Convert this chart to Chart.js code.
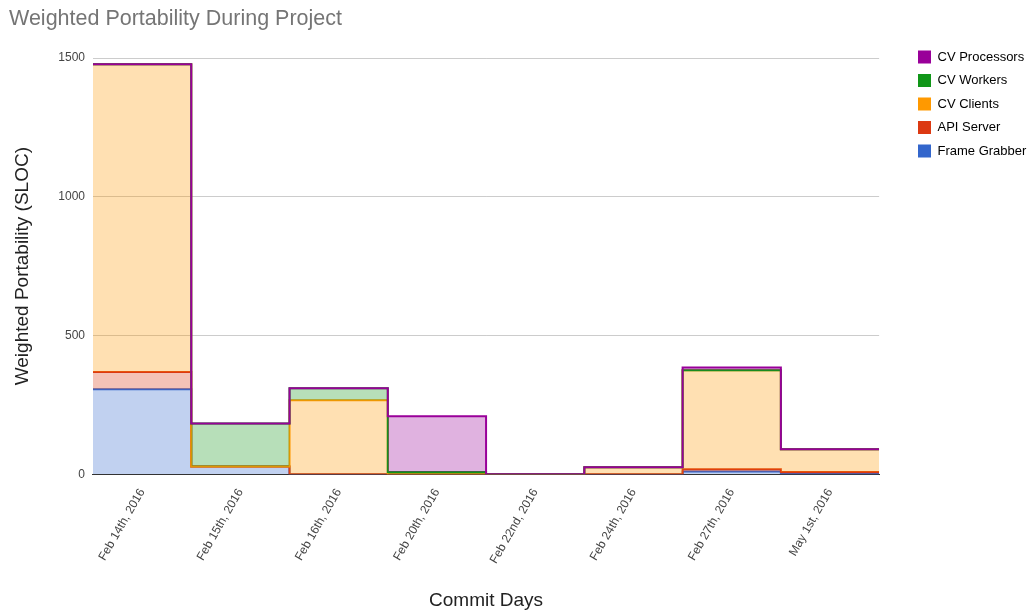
<!DOCTYPE html>
<html>
<head>
<meta charset="utf-8">
<script src="https://cdn.jsdelivr.net/npm/chart.js@4.4.1/dist/chart.umd.min.js"></script>
<style>
  html, body { margin:0; padding:0; background:#fff; }
  .wrap { width:1033px; height:614px; }
</style>
</head>
<body>
<div class="wrap"><canvas id="chart" width="1033" height="614"></canvas></div>
<script>
// commit days (one step per day)
const days = ['Feb 14th, 2016','Feb 15th, 2016','Feb 16th, 2016','Feb 20th, 2016',
              'Feb 22nd, 2016','Feb 24th, 2016','Feb 27th, 2016','May 1st, 2016'];

// weighted portability per component, SLOC
const frameGrabber = [306, 28,   0,   0, 0,  0,  10,  2];
const apiServer    = [ 62,  0,   0,   0, 0,  0,   8,  6];
const cvClients    = [1110, 0, 267,   0, 0, 25, 357, 82];
const cvWorkers    = [  0, 155, 43,   8, 0,  0,   0,  0];
const cvProcessors = [  0,  0,   0, 201, 0,  0,  10,  0];

const yTicks = [0, 500, 1000, 1500];

const FONT = 'Arial, "Liberation Sans", sans-serif';

const series = [
  {label:'Frame Grabber', data:frameGrabber, color:'#3366cc', fill:'rgba(51,102,204,0.30)'},
  {label:'API Server',    data:apiServer,    color:'#dc3912', fill:'rgba(220,57,18,0.30)'},
  {label:'CV Clients',    data:cvClients,    color:'#ff9900', fill:'rgba(255,153,0,0.30)'},
  {label:'CV Workers',    data:cvWorkers,    color:'#109618', fill:'rgba(16,150,24,0.30)'},
  {label:'CV Processors', data:cvProcessors, color:'#990099', fill:'rgba(153,0,153,0.30)'}
];

// stack by hand so the top series' line can be drawn last (chart.js stacking
// would tie draw order to stack order and put the bottom series on top)
let running = days.map(() => 0);
const stacked = series.map(s => {
  running = running.map((r, i) => r + s.data[i]);
  return running.slice();
});

// stepped line needs a closing point at the right edge of the last day
const toSteps = vals => vals.concat(vals[vals.length-1]).map((v,i) => ({x:i, y:v}));

// nudge the legend down/right, like the original layout
const legendShift = {
  id:'legendShift',
  afterLayout(chart){
    const lg = chart.legend;
    if (!lg) return;
    const dx = 907.5 - lg.left, dy = 36;
    lg.left += dx; lg.right += dx;
    lg.top += dy;  lg.bottom += dy;
  }
};

const ctx = document.getElementById('chart').getContext('2d');
new Chart(ctx, {
  type:'line',
  data:{
    datasets: series.map((s, i) => ({
      label: s.label,
      data: toSteps(stacked[i]),
      borderColor: s.color,
      backgroundColor: s.fill,
      borderWidth: 2,
      stepped: true,
      pointRadius: 0,
      order: series.length - 1 - i,
      fill: i === 0 ? 'origin' : '-1'
    }))
  },
  plugins:[legendShift],
  options:{
    responsive:false, animation:false,
    layout:{ padding:{ top:4, right:25, bottom:2, left:9 } },
    scales:{
      x:{
        type:'linear', min:0, max:days.length,
        afterBuildTicks: axis => { axis.ticks = days.map((_, i) => ({value: i + 0.5})); },
        ticks:{
          callback: (v, i) => days[i],
          autoSkip:false, minRotation:60, maxRotation:60,
          color:'#444', font:{ family:FONT, size:12 }, padding:4
        },
        grid:{ display:false },
        border:{ color:'#333' },
        title:{ display:true, text:'Commit Days', color:'#222',
                font:{ family:FONT, size:19 }, padding:{ top:19, bottom:0 } }
      },
      y:{
        min:0, max:1500,
        afterBuildTicks: axis => { axis.ticks = yTicks.map(v => ({value:v})); },
        ticks:{ callback: v => String(v), color:'#444', font:{ family:FONT, size:12 }, padding:8 },
        grid:{ color:'#cccccc', drawTicks:false },
        border:{ display:false },
        title:{ display:true, text:'Weighted Portability (SLOC)', color:'#222',
                font:{ family:FONT, size:19 }, padding:{ top:2, bottom:16.5 } }
      }
    },
    plugins:{
      title:{
        display:true, text:'Weighted Portability During Project', align:'start',
        color:'#757575', font:{ family:FONT, size:21.5, weight:'normal' },
        padding:{ top:2, bottom:26.3 }
      },
      legend:{
        position:'right', align:'start', reverse:true,
        labels:{
          color:'#222', font:{ family:FONT, size:13 },
          boxWidth:13, boxHeight:13, padding:10.5,
          generateLabels: chart => chart.data.datasets.map((ds, i) => ({
            text: ds.label, fillStyle: ds.borderColor, strokeStyle: ds.borderColor,
            lineWidth: 0, datasetIndex: i, hidden: false
          }))
        }
      },
      tooltip:{ enabled:false }
    }
  }
});
</script>
</body>
</html>
